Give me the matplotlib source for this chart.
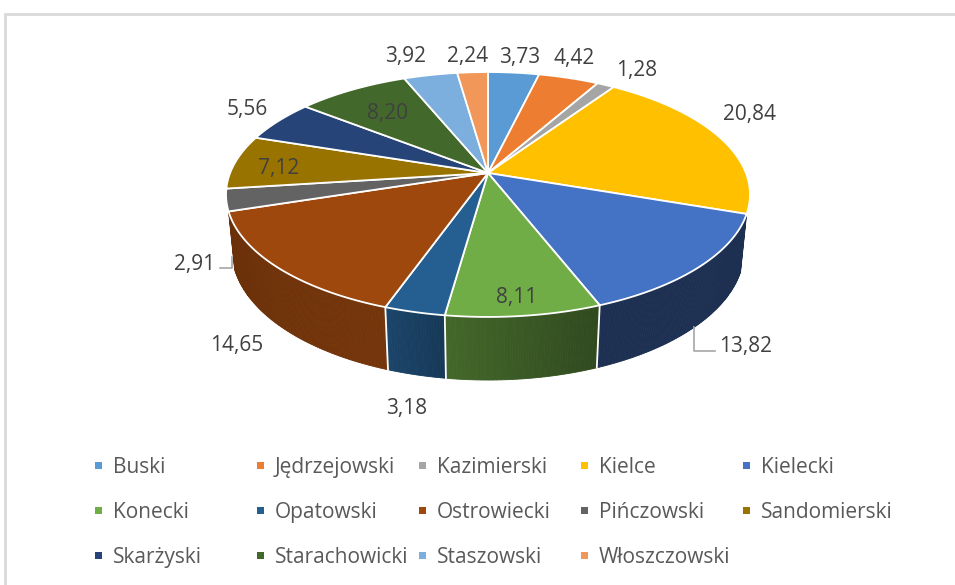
"""
3D pie of the district shares (Excel-style perspective pie) with the
legend in five columns underneath.
"""
import numpy as np
import matplotlib.pyplot as plt
from matplotlib.patches import Polygon, Rectangle

# ─── data ─────────────────────────────────────────────────────────────
districts = ['Buski', 'Jędrzejowski', 'Kazimierski', 'Kielce', 'Kielecki',
             'Konecki', 'Opatowski', 'Ostrowiecki', 'Pińczowski',
             'Sandomierski', 'Skarżyski', 'Starachowicki', 'Staszowski',
             'Włoszczowski']
shares = [3.73, 4.42, 1.28, 20.84, 13.82, 8.11, 3.18, 14.65, 2.91,
          7.12, 5.56, 8.20, 3.92, 2.24]
labels = [f'{v:.2f}'.replace('.', ',') for v in shares]

colors = ['#5B9BD5', '#ED7D31', '#A5A5A5', '#FFC000', '#4472C4',
          '#70AD47', '#255E91', '#9E480E', '#636363', '#997300',
          '#264478', '#43682B', '#7CAFDD', '#F1975A']

# label placement: (angle shift in deg, radius, plane), leader line flag
label_spot = [(0.4, 1.21, 'top'), (-2.6, 1.25, 'top'), (1.5, 1.25, 'top'),
              (-8.3, 1.25, 'top'), (-1.7, 1.19, 'bot'), (0.5, 0.88, 'top'),
              (-0.8, 1.17, 'bot'), (1.5, 1.17, 'bot'), (-0.4, 1.14, 'bot'),
              (-1.8, 0.82, 'top'), (2.2, 1.20, 'top'), (-0.3, 0.71, 'top'),
              (-2.7, 1.27, 'top'), (-0.6, 1.21, 'top')]
leader = {'Kielecki', 'Pińczowski'}

# ─── perspective camera ───────────────────────────────────────────────
CX, CY = 488, 173        # screen position of pie centre (pixels)
FOCAL = 1305
DIST = 5.06
ELEV = np.radians(27.4)
THICK = 0.2475
MIN_SIDE = 6.5           # deg; thinner wall slivers are not drawn

FONT = ['Open Sans', 'DejaVu Sans']


def project(theta, r=1.0, z=0.0):
    th = np.radians(theta)
    x = r * np.sin(th)
    y = r * np.cos(th)
    depth = DIST + y * np.cos(ELEV) - z * np.sin(ELEV)
    sx = x / depth
    sy = (y * np.sin(ELEV) + z * np.cos(ELEV)) / depth
    return CX + FOCAL * sx, CY - FOCAL * sy


def shade(hex_col, f):
    h = hex_col.lstrip('#')
    rgb = np.array([int(h[i:i + 2], 16) for i in (0, 2, 4)]) / 255.0
    return tuple(rgb * f)


def side_factor(theta):
    return np.interp(theta, [100, 158, 188, 200, 252, 260],
                     [0.42, 0.42, 0.60, 0.74, 0.67, 0.65])


fig = plt.figure(figsize=(9.55, 5.85), dpi=100)
ax = fig.add_axes([0, 0, 1, 1])
ax.set_xlim(0, 955)
ax.set_ylim(585, 0)
ax.axis('off')

# chart frame (only top and left edges are inside the picture)
ax.plot([4.5, 4.5, 960], [590, 13.5, 13.5], color='#d9d9d9', lw=2,
        solid_joinstyle='miter')

total = sum(shares)
bounds = np.concatenate([[0], np.cumsum(shares) / total * 360.0])

# visible part of the cylinder wall
y_tan = -1.0 / (DIST * np.cos(ELEV))
vis0 = np.degrees(np.arccos(y_tan))
vis1 = 360.0 - vis0

# ─── side walls ───────────────────────────────────────────────────────
for i, col in enumerate(colors):
    a0 = max(bounds[i], vis0)
    a1 = min(bounds[i + 1], vis1)
    if a1 - a0 < MIN_SIDE:
        continue
    n = max(2, int((a1 - a0) / 0.5) + 1)
    angs = np.linspace(a0, a1, n)
    for u, v in zip(angs[:-1], angs[1:]):
        pts = [project(u), project(v), project(v, z=-THICK),
               project(u, z=-THICK)]
        c = shade(col, side_factor(0.5 * (u + v)))
        ax.add_patch(Polygon(pts, closed=True, facecolor=c, edgecolor=c,
                             lw=0.6))

for b in bounds[1:-1]:
    if vis0 + MIN_SIDE < b < vis1 - MIN_SIDE:
        p, q = project(b), project(b, z=-THICK)
        ax.plot([p[0], q[0]], [p[1], q[1]], color='white', lw=1.3)

# ─── top faces ────────────────────────────────────────────────────────
for i, col in enumerate(colors):
    n = max(2, int((bounds[i + 1] - bounds[i]) / 0.5) + 1)
    angs = np.linspace(bounds[i], bounds[i + 1], n)
    pts = [(CX, CY)] + [project(a) for a in angs]
    ax.add_patch(Polygon(pts, closed=True, facecolor=col,
                         edgecolor='white', lw=1.3, joinstyle='round'))

# ─── data labels ──────────────────────────────────────────────────────
for i, name in enumerate(districts):
    dth, r, plane = label_spot[i]
    mid = 0.5 * (bounds[i] + bounds[i + 1])
    z = 0.0 if plane == 'top' else -THICK
    lx, ly = project(mid + dth, r, z)
    ax.text(lx, ly + 7.5, labels[i], ha='center', va='baseline',
            fontsize=15, color='#404040', family=FONT)
    if name in leader:
        sx, sy = project(mid, 1.0, -THICK)
        half = 5.5 * len(labels[i])
        ex = lx - half - 3 if lx > sx else lx + half + 3
        yl = ly + 6
        ax.plot([sx, sx, ex], [sy, yl, yl], color='#a6a6a6', lw=1.2)

# ─── legend ───────────────────────────────────────────────────────────
for i, name in enumerate(districts):
    row, col = divmod(i, 5)
    tx = 113 + 162 * col
    base = 473 + 45 * row
    ax.add_patch(Rectangle((tx - 18, base - 11), 7, 7,
                           facecolor=colors[i], edgecolor='none'))
    ax.text(tx, base, name, ha='left', va='baseline', fontsize=15,
            color='#595959', family=FONT)

fig.savefig('out.png', dpi=100)
